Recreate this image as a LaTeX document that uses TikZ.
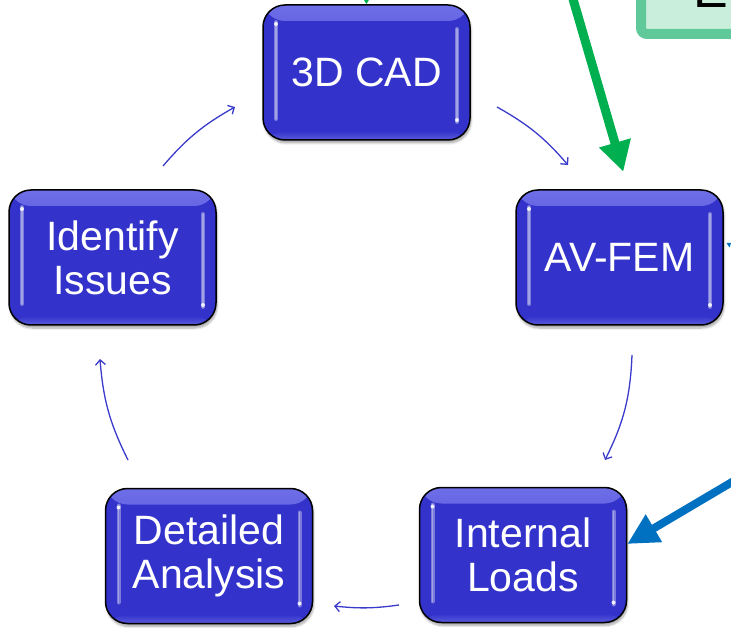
\documentclass[tikz,border=0pt]{standalone}
\usepackage{fontspec}
\setmainfont{Liberation Sans}
\usetikzlibrary{arrows.meta,shadows.blur}

\definecolor{boxblue}{HTML}{3333CC}
\definecolor{glosstop}{HTML}{6E6EE8}
\definecolor{glossbot}{HTML}{5A5ADC}
\definecolor{cyclearrow}{HTML}{3A3ACB}
\definecolor{callgreen}{HTML}{00B050}
\definecolor{notefill}{HTML}{C9EEDB}
\definecolor{noteedge}{HTML}{5FC99A}
\definecolor{callblue}{HTML}{0070C0}

\tikzset{
  stagebox/.style={
    draw=black, line width=1.5pt, fill=boxblue, rounded corners=22pt,
    minimum width=207pt, minimum height=135pt, inner sep=0pt,
    text=white, align=center, font=\fontsize{41pt}{44pt}\selectfont,
    blur shadow={shadow xshift=1pt, shadow yshift=-3pt, shadow blur steps=6, shadow opacity=35},
    path picture={
      % light band along the top edge
      \shade[top color=glosstop, bottom color=boxblue]
        (path picture bounding box.north west) rectangle
        ([yshift=-16pt]path picture bounding box.north east);
      % faint light band along the bottom edge
      \shade[top color=boxblue, bottom color=glossbot]
        ([yshift=9pt]path picture bounding box.south west) rectangle
        (path picture bounding box.south east);
      % vertical highlights near the sides
      \draw[white, opacity=.35, line width=4pt, line cap=round]
        ([xshift=13pt,yshift=-17pt]path picture bounding box.north west) --
        ([xshift=13pt,yshift=21pt]path picture bounding box.south west);
      \draw[white, opacity=.35, line width=4pt, line cap=round]
        ([xshift=-13pt,yshift=-24pt]path picture bounding box.north east) --
        ([xshift=-13pt,yshift=18pt]path picture bounding box.south east);
      \draw[white, opacity=.3, line width=1.5pt, line cap=round]
        ([xshift=13pt,yshift=-17pt]path picture bounding box.north west) --
        ([xshift=13pt,yshift=21pt]path picture bounding box.south west);
      \draw[white, opacity=.3, line width=1.5pt, line cap=round]
        ([xshift=-13pt,yshift=-24pt]path picture bounding box.north east) --
        ([xshift=-13pt,yshift=18pt]path picture bounding box.south east);
      \fill[white, opacity=.85]
        ([xshift=13pt,yshift=-19pt]path picture bounding box.north west) circle (2pt);
      \fill[white, opacity=.85]
        ([xshift=-13pt,yshift=20pt]path picture bounding box.south east) circle (2pt);
    }
  },
  cyclelink/.style={draw=cyclearrow, line width=1.3pt,
    -{Straight Barb[length=5pt,width=10pt]}},
  greencall/.style={draw=callgreen, line width=9pt,
    -{Triangle[length=30pt,width=31pt]}},
  bluecall/.style={draw=callblue, line width=8pt,
    -{Triangle[length=31pt,width=30pt]}},
  notebox/.style={draw=noteedge, fill=notefill, line width=10pt, rounded corners=6pt},
}

\begin{document}
\begin{tikzpicture}[x=1pt, y=-1pt]
\useasboundingbox (0,0) rectangle (731,628);
\clip (0,0) rectangle (731,628);

% note box in the upper right corner
\draw[notebox] (641,34) rectangle (800,-60);
\node[anchor=base west, inner sep=0pt, font=\fontsize{52pt}{56pt}\selectfont] (notetext) at (693,8) {E};

% the five stages of the cycle
\node[stagebox] (cad)    at (366.5,72.5) {3D CAD};
\node[stagebox] (fem)    at (619.5,257.5) {AV-FEM};
\node[stagebox] (loads)  at (523,555) {Internal\\Loads};
\node[stagebox] (detail) at (209,556) {Detailed\\Analysis};
\node[stagebox] (issues) at (112.5,257.5) {Identify\\Issues};

% ends of the arcs between stages
\coordinate (cad-out)    at (497,107);
\coordinate (fem-in)     at (568,165);
\coordinate (fem-out)    at (632,355);
\coordinate (loads-in)   at (605,460);
\coordinate (loads-out)  at (399,605);
\coordinate (detail-in)  at (334,606);
\coordinate (detail-out) at (128,460);
\coordinate (issues-in)  at (100,359);
\coordinate (issues-out) at (163,166);
\coordinate (cad-in)     at (235,107);

\draw[cyclelink] (cad-out) to[bend left=10] (fem-in);
\draw[cyclelink] (fem-out) to[bend left=12] (loads-in);
\draw[cyclelink] (loads-out) to[bend left=7] (detail-in);
\draw[cyclelink] (detail-out) to[bend left=11] (issues-in);
\draw[cyclelink] (issues-out) to[bend left=10] (cad-in);

% callout arrows
\coordinate (green-from) at (569.8,-12);
\coordinate (green-to)   at (623.3,171.7);
\draw[greencall] (green-from) -- (green-to);

\coordinate (top-from) at (366,-30);
\draw[draw=callgreen, line width=2pt, -{Triangle[length=10pt,width=11pt]}] (top-from) -- (cad.north);

\coordinate (blue-from) at (760,465.5);
\draw[bluecall] (blue-from) -- ([yshift=11pt]loads.east);

% tip of a thin blue mark beside AV-FEM
\fill[callblue] (726.5,243) -- (731,243) -- (729.5,247.5) -- cycle;
\end{tikzpicture}
\end{document}
